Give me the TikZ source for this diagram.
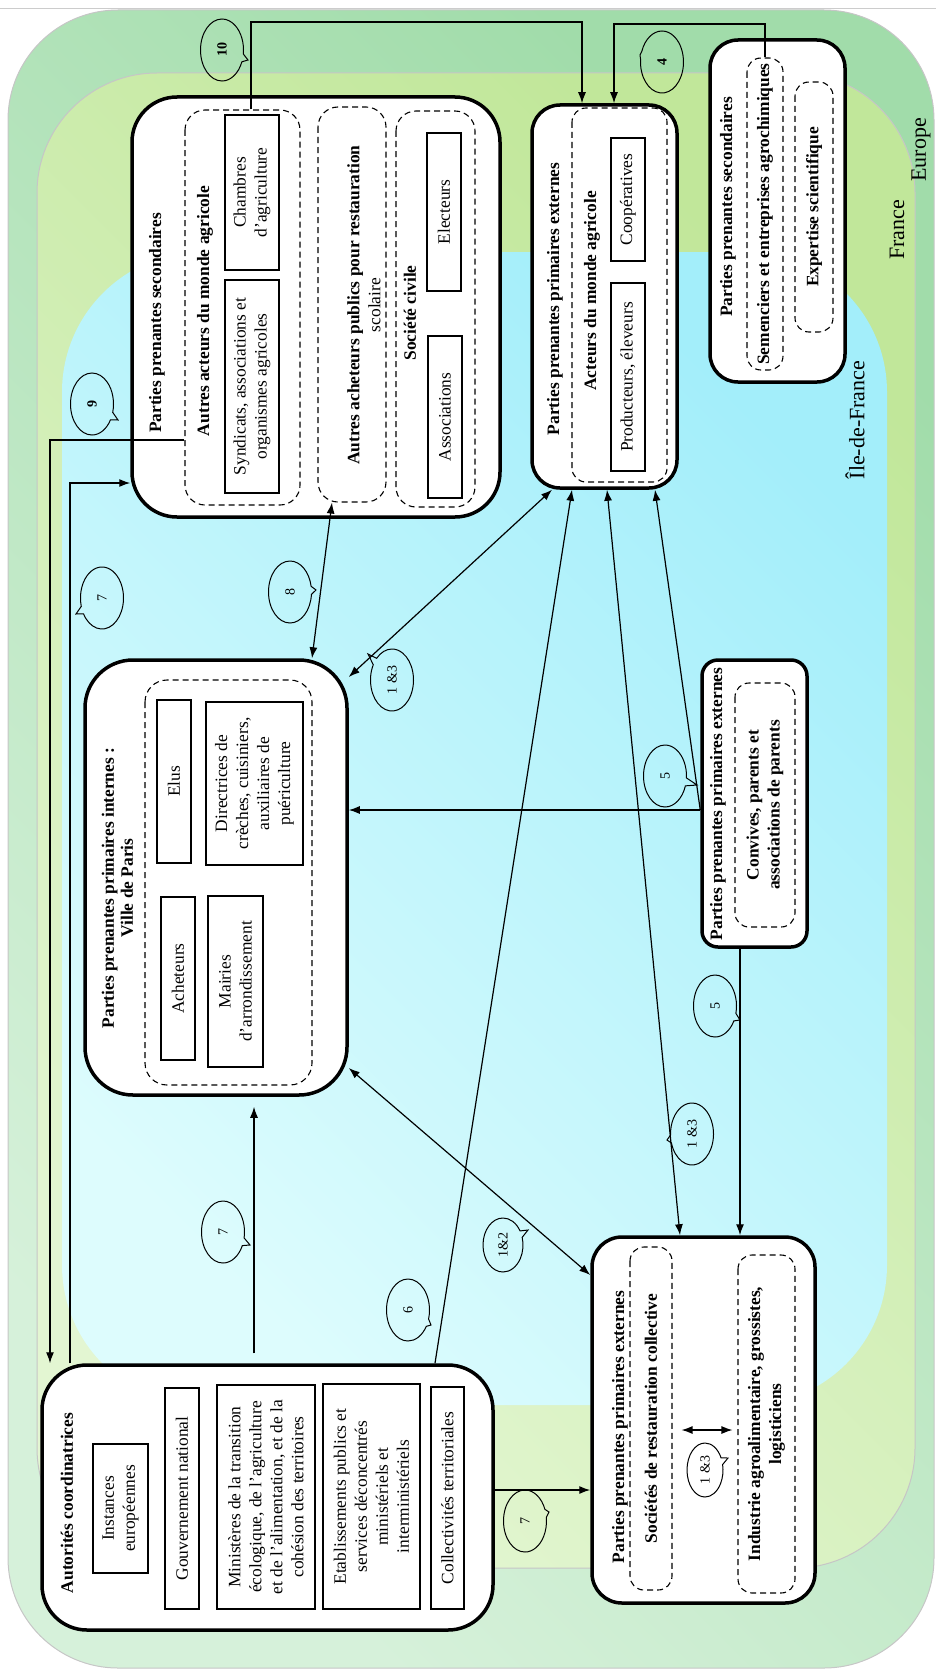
\documentclass[tikz,border=0pt]{standalone}
\usepackage{fontspec}
\setmainfont{Liberation Serif}
\usepackage{tikz}
\usetikzlibrary{arrows.meta,shapes.geometric,shapes.callouts}

\definecolor{euA}{HTML}{A1DCAA}
\definecolor{euB}{HTML}{D6F1DA}
\definecolor{frA}{HTML}{C1E79A}
\definecolor{frB}{HTML}{E3F6D2}
\definecolor{idfA}{HTML}{A3EEFA}
\definecolor{idfB}{HTML}{DDFCFD}

\tikzset{
  bigbox/.style={draw, line width=3.5pt, rounded corners=45pt, fill=white, inner sep=0pt},
  dbox/.style={draw, line width=1.1pt, dash pattern=on 6pt off 4pt, rounded corners=14pt, inner sep=0pt, align=center},
  ibox/.style={draw, line width=1.3pt, inner sep=0pt, align=center},
  ttl/.style={font=\fontsize{17.4}{21}\selectfont\bfseries, align=center, inner sep=0pt},
  bubble/.style={ellipse callout, draw, line width=1pt, inner sep=0pt, minimum width=62pt, minimum height=43pt, font=\fontsize{14}{16}\selectfont},
  arr/.style={line width=1.2pt, -{Latex[length=11pt,width=8pt]}},
  darr/.style={line width=1.2pt, {Latex[length=11pt,width=8pt]}-{Latex[length=11pt,width=8pt]}},
  region/.style={draw=gray!45, line width=1pt},
  zone/.style={font=\fontsize{22}{24}\selectfont, inner sep=0pt}
}

\begin{document}
\begin{tikzpicture}[x=1pt, y=-1pt, every node/.style={rotate=90, font=\fontsize{17.4}{21}\selectfont}]
	\useasboundingbox (0,0) rectangle (936,1675);
	
	% zones
	\draw[gray!40, line width=1pt] (0,9) -- (936,9);
	\draw[region, rounded corners=110pt, top color=euA, bottom color=euB, shading angle=-45] (8,10) rectangle (934,1668);
	\draw[region, rounded corners=120pt, top color=frA, bottom color=frB, shading angle=-45] (37,73) rectangle (915,1568);
	\shade[rounded corners=140pt, top color=idfA, bottom color=idfB, shading angle=-45] (62,252) rectangle (887,1405);
	\node[zone] (europe) at (921,150) {Europe};
	\node[zone] (france) at (897,230) {France};
	\node[zone] (idf) at (855,420) {Île-de-France};
	
	% parties prenantes secondaires
	\node[bigbox, minimum width=420pt, minimum height=368pt] (A) at (316,307) {};
	\node[ttl] (tA) at (157,323) {Parties prenantes secondaires};
	\node[dbox, rounded corners=20pt, minimum width=395pt, minimum height=115pt] (dA1) at (242.5,307.5) {};
	\node[ttl] (tA1) at (205,311) {Autres acteurs du monde agricole};
	\node[ibox, minimum width=155pt, minimum height=54pt] (chamb) at (252,192.5) {Chambres\\d'agriculture};
	\node[ibox, minimum width=213pt, minimum height=54pt] (synd) at (252,386.5) {Syndicats, associations et\\organismes agricoles};
	\node[dbox, rounded corners=20pt, minimum width=395pt, minimum height=68pt] (dA2) at (352,304.5) {};
	\node[ttl] (tA2) at (364,305) {Autres acheteurs publics pour restauration\\\mdseries scolaire};
	\node[dbox, rounded corners=20pt, minimum width=396pt, minimum height=79pt] (dA3) at (435.5,309) {};
	\node[ttl] (tA3) at (410,313) {Société civile};
	\node[ibox, minimum width=158pt, minimum height=34pt] (elec) at (444,212) {Electeurs};
	\node[ibox, minimum width=162pt, minimum height=34pt] (assoc) at (445,417) {Associations};
	
	% acteurs du monde agricole
	\node[bigbox, rounded corners=28pt, minimum width=383pt, minimum height=145pt] (B) at (604.5,296.5) {};
	\node[ttl] (tB) at (555,299) {Parties prenantes primaires externes};
	\node[dbox, minimum width=374pt, minimum height=95pt] (dB) at (619.5,295) {};
	\node[ttl] (tB1) at (592,291) {Acteurs du monde agricole};
	\node[ibox, minimum width=123pt, minimum height=34pt] (coop) at (628,199.5) {Coopératives};
	\node[ibox, minimum width=188pt, minimum height=34pt] (prod) at (628,377) {Producteurs, éleveurs};
	
	% semenciers
	\node[bigbox, rounded corners=28pt, minimum width=342pt, minimum height=135pt] (C) at (777.5,211) {};
	\node[ttl] (tC) at (728,207) {Parties prenantes secondaires};
	\node[dbox, ttl, minimum width=312pt, minimum height=36pt] (dC1) at (765,214) {Semenciers et entreprises agrochimiques};
	\node[dbox, ttl, minimum width=250pt, minimum height=38pt] (dC2) at (814,207) {Expertise scientifique};
	
	% ville de paris
	\node[bigbox, rounded corners=48pt, minimum width=435pt, minimum height=262pt] (D) at (216,877.5) {};
	\node[ttl, font=\fontsize{17.4}{19}\selectfont\bfseries] (tD) at (117.5,888) {Parties prenantes primaires internes :\\Ville de Paris};
	\node[dbox, rounded corners=22pt, minimum width=405pt, minimum height=167pt] (dD) at (228.5,882.5) {};
	\node[ibox, minimum width=163pt, minimum height=34pt] (elus) at (174,781.5) {Elus};
	\node[ibox, minimum width=163pt, minimum height=34pt] (achet) at (178,978.5) {Acheteurs};
	\node[ibox, minimum width=163pt, minimum height=97pt] (direc) at (254.5,783.5) {Directrices de\\crèches, cuisiniers,\\auxiliaires de\\puériculture};
	\node[ibox, minimum width=171pt, minimum height=55pt] (mairie) at (235.5,981.5) {Mairies\\d'arrondissement};
	
	% convives
	\node[bigbox, rounded corners=16pt, minimum width=287pt, minimum height=105pt] (E) at (754.5,803.5) {};
	\node[ttl] (tE) at (718,804) {Parties prenantes primaires externes};
	\node[dbox, ttl, minimum width=244pt, minimum height=60pt] (dE) at (765,805) {Convives, parents et\\associations de parents};
	
	% autorites
	\node[bigbox, minimum width=265pt, minimum height=451pt] (F) at (267.5,1497.5) {};
	\node[ttl] (tF) at (67,1503) {Autorités coordinatrices};
	\node[ibox, minimum width=129pt, minimum height=55pt] (inst) at (120.5,1508.5) {Instances\\européennes};
	\node[ibox, minimum width=221pt, minimum height=34pt] (gouv) at (182,1498.5) {Gouvernement national};
	\node[ibox, minimum width=224pt, minimum height=98pt] (minis) at (266,1497) {Ministères de la transition\\écologique, de l'agriculture\\et de l'alimentation, et de la\\cohésion des territoires};
	\node[ibox, minimum width=225pt, minimum height=97pt] (etab) at (371.5,1496.5) {Etablissements publics et\\services déconcentrés\\ministériels et\\interministériels};
	\node[ibox, minimum width=222pt, minimum height=33pt] (coll) at (447.5,1498) {Collectivités territoriales};
	
	% restauration collective
	\node[bigbox, rounded corners=30pt, minimum width=366pt, minimum height=223pt] (G) at (703.5,1420) {};
	\node[ttl] (tG) at (620,1427) {Parties prenantes primaires externes};
	\node[dbox, ttl, minimum width=343pt, minimum height=42pt] (dG1) at (651,1418.5) {Sociétés de restauration collective};
	\node[dbox, ttl, minimum width=338pt, minimum height=57pt] (dG2) at (766.5,1424) {Industrie agroalimentaire, grossistes,\\logisticiens};
	
	% end points
	\coordinate (k8a) at (332,0 |- dA2.west);
	\coordinate (k8b) at (312,0 |- D.east);
	\coordinate (kDB1) at (D.south |- 0,677);
	\coordinate (kDB2) at (552,0 |- B.west);
	\coordinate (kDG1) at (D.south |- 0,1068);
	\coordinate (kDG2) at (G.north |- 0,1275);
	\coordinate (kBG1) at (607,0 |- B.west);
	\coordinate (kBG2) at (680,0 |- G.east);
	\coordinate (kE) at (E.north |- 0,810);
	\coordinate (kED) at (D.south |- 0,810);
	\coordinate (kEB) at (655,0 |- B.west);
	\coordinate (kEG1) at (740,0 |- E.west);
	\coordinate (kEG2) at (740,0 |- G.east);
	\coordinate (kF6) at (435,0 |- F.east);
	\coordinate (kB6) at (572,0 |- B.west);
	\coordinate (kFG1) at (F.south |- 0,1490);
	\coordinate (kFG2) at (G.north |- 0,1490);
	
	\foreach \from/\to in {k8a/k8b,kDB1/kDB2,kDG1/kDG2,kBG1/kBG2}
	\draw[darr] (\from) -- (\to);
	\foreach \from/\to in {kE/kED,kE/kEB,kEG1/kEG2,kF6/kB6,kFG1/kFG2}
	\draw[arr] (\from) -- (\to);
	\draw[darr, shorten <=9pt, shorten >=5pt] (dG1.south |- 0,1430) -- (dG2.north |- 0,1430);
	\draw[arr, shorten <=10pt, shorten >=10pt] (254,0 |- F.east) -- (254,0 |- D.west);
	\draw[arr] (251,0 |- dA1.east) |- (582,22) -- (582,0 |- B.east);
	\draw[arr] (765,0 |- dC1.east) |- (614,24) -- (614,0 |- B.east);
	\draw[arr] (dA1.north |- 0,440) -| (50,0 |- F.east);
	\draw[arr] (70,0 |- F.east) |- (A.north |- 0,483);
	
	% bulles
	\node[bubble, font=\fontsize{14}{16}\selectfont\bfseries, callout absolute pointer={(248,60)}] (b10) at (222,50) {10};
	\node[bubble, font=\fontsize{14}{16}\selectfont\bfseries, callout absolute pointer={(640,55)}] (b4) at (662,62) {4};
	\node[bubble, font=\fontsize{14}{16}\selectfont\bfseries, callout absolute pointer={(118,420)}] (b9) at (92,404) {9};
	\node[bubble, callout absolute pointer={(76,614)}] (b7a) at (102,598) {7};
	\node[bubble, callout absolute pointer={(316,590)}] (b8) at (290,592) {8};
	\node[bubble, callout absolute pointer={(368,654)}] (b13a) at (392,680) {1 \&3};
	\node[bubble, callout absolute pointer={(697,785)}] (b5a) at (665,776) {5};
	\node[bubble, callout absolute pointer={(740,1020)}] (b5b) at (715,1006) {5};
	\node[bubble, callout absolute pointer={(667,1140)}] (b13b) at (692,1134) {1 \&3};
	\node[bubble, minimum width=54pt, minimum height=40pt, callout absolute pointer={(528,1230)}] (b12) at (503,1245) {1\&2};
	\node[bubble, callout absolute pointer={(431,1325)}] (b6) at (408,1310) {6};
	\node[bubble, callout absolute pointer={(250,1245)}] (b7b) at (223,1232) {7};
	\node[bubble, callout absolute pointer={(549,1512)}] (b7c) at (525,1521) {7};
	\node[bubble, minimum width=54pt, minimum height=36pt, callout absolute pointer={(728,1458)}] (b13c) at (705,1470) {1 \&3};
	
\end{tikzpicture}
\end{document}
